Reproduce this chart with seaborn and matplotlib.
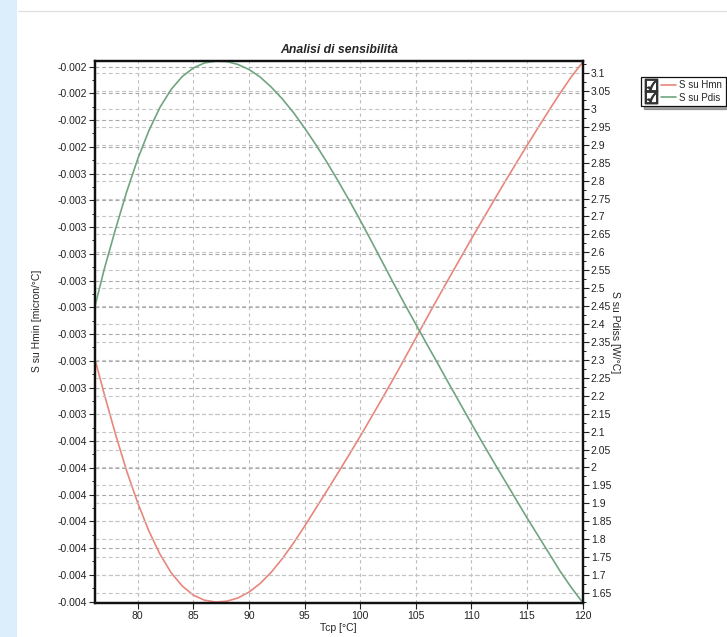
import numpy as np
import pandas as pd
import matplotlib
matplotlib.use("Agg")
import matplotlib.pyplot as plt
import seaborn as sns
from matplotlib.ticker import FixedLocator, FixedFormatter, MultipleLocator, AutoMinorLocator
from matplotlib.lines import Line2D
from matplotlib.legend_handler import HandlerTuple
from matplotlib.patches import Rectangle

# ---------------- data ----------------
tcp = [76.16, 77, 78, 79, 80, 81, 82, 83, 84, 85, 86, 87, 88, 89, 90, 91, 92, 93, 94,
       95, 96, 97, 98, 99, 100, 101, 102, 103, 104, 105, 106, 107, 108, 109, 110,
       111, 112, 113, 114, 115, 116, 117, 118, 119, 120]

s_hmn = [-0.003245, -0.003376, -0.003524, -0.003661, -0.003781, -0.003886, -0.003973,
         -0.004042, -0.004092, -0.004126, -0.004145, -0.004152, -0.004149, -0.004137,
         -0.004115, -0.004083, -0.004041, -0.003990, -0.003932, -0.003869, -0.003803,
         -0.003737, -0.003670, -0.003602, -0.003533, -0.003462, -0.003390, -0.003317,
         -0.003242, -0.003166, -0.003090, -0.003015, -0.002941, -0.002868, -0.002795,
         -0.002724, -0.002653, -0.002583, -0.002514, -0.002446, -0.002379, -0.002313,
         -0.002249, -0.002188, -0.002135]

s_pdis = [2.450, 2.554, 2.664, 2.768, 2.860, 2.939, 3.004, 3.054, 3.090, 3.114, 3.128,
          3.133, 3.132, 3.124, 3.110, 3.089, 3.061, 3.028, 2.990, 2.947, 2.901, 2.852,
          2.800, 2.746, 2.690, 2.632, 2.573, 2.514, 2.456, 2.400, 2.344, 2.289, 2.233,
          2.178, 2.123, 2.069, 2.016, 1.964, 1.912, 1.860, 1.810, 1.760, 1.710, 1.665,
          1.624]

left_tick_values = [-0.00215, -0.00225, -0.00235, -0.00245, -0.00255, -0.00265, -0.00275,
                    -0.00285, -0.00295, -0.00305, -0.00315, -0.00325, -0.00335, -0.00345,
                    -0.00355, -0.00365, -0.00375, -0.00385, -0.00395, -0.00405, -0.00415]
left_tick_labels = ["-0.002"] * 4 + ["-0.003"] * 10 + ["-0.004"] * 7

right_tick_values = [1.65, 1.7, 1.75, 1.8, 1.85, 1.9, 1.95, 2.0, 2.05, 2.1, 2.15, 2.2,
                     2.25, 2.3, 2.35, 2.4, 2.45, 2.5, 2.55, 2.6, 2.65, 2.7, 2.75, 2.8,
                     2.85, 2.9, 2.95, 3.0, 3.05, 3.1]
right_tick_labels = ["1.65", "1.7", "1.75", "1.8", "1.85", "1.9", "1.95", "2", "2.05",
                     "2.1", "2.15", "2.2", "2.25", "2.3", "2.35", "2.4", "2.45", "2.5",
                     "2.55", "2.6", "2.65", "2.7", "2.75", "2.8", "2.85", "2.9", "2.95",
                     "3", "3.05", "3.1"]

x_tick_values = [80, 85, 90, 95, 100, 105, 110, 115, 120]

title_text = "Analisi di sensibilità"
x_label = "Tcp [°C]"
left_label = "S su Hmin [micron/°C]"
right_label = "S su Pdiss [W/°C]"
legend_labels = ["S su Hmn", "S su Pdis"]

# ---------------- style ----------------
sns.set_style("white")
plt.rcParams["font.family"] = ["Liberation Sans", "DejaVu Sans"]

RED = "#e8867c"
GREEN = "#6fa57f"
GRID = "#a8a8a8"

W, H = 727, 637
fig = plt.figure(figsize=(W / 100, H / 100), dpi=100)
fig.patch.set_facecolor("white")

# page decorations (blue side strip, thin top rule)
fig.patches.append(Rectangle((0, 0), 17 / W, 1, transform=fig.transFigure,
                             facecolor="#dcedfb", edgecolor="none", zorder=0))
fig.add_artist(Line2D([18 / W, 1], [1 - 11 / H, 1 - 11 / H], transform=fig.transFigure,
                      color="#e2e2e2", lw=1.0))

ax = fig.add_axes([95 / W, 1 - 603 / H, (582.5 - 95) / W, (603 - 61) / H])
ax2 = ax.twinx()

df = pd.DataFrame({"tcp": tcp, "s_hmn": s_hmn, "s_pdis": s_pdis})
sns.lineplot(data=df, x="tcp", y="s_hmn", ax=ax, color=RED, lw=1.2)
sns.lineplot(data=df, x="tcp", y="s_pdis", ax=ax2, color=GREEN, lw=1.2)

ax.set_xlim(76.16, 120)
ax.set_ylim(-0.0041556, -0.0021294)
ax2.set_ylim(1.622, 3.1335)

ax.xaxis.set_major_locator(FixedLocator(x_tick_values))
ax.xaxis.set_minor_locator(MultipleLocator(1))
ax.yaxis.set_major_locator(FixedLocator(left_tick_values))
ax.yaxis.set_major_formatter(FixedFormatter(left_tick_labels))
ax.yaxis.set_minor_locator(AutoMinorLocator(2))
ax2.yaxis.set_major_locator(FixedLocator(right_tick_values))
ax2.yaxis.set_major_formatter(FixedFormatter(right_tick_labels))
ax2.yaxis.set_minor_locator(AutoMinorLocator(2))

tick_kw = dict(labelsize=7.5, colors="#222222", width=0.8, length=4, direction="out", pad=2)
ax.tick_params(axis="both", which="major", **tick_kw)
ax2.tick_params(axis="y", which="major", **tick_kw)
ax.tick_params(axis="both", which="minor", length=2, width=0.7, direction="out", color="#222222")
ax2.tick_params(axis="y", which="minor", length=2, width=0.7, direction="out", color="#222222")
ax.tick_params(axis="y", left=True, right=False)
ax.tick_params(axis="x", bottom=True)

dash = (0, (3.5, 2.5))
ax.grid(True, axis="y", which="major", ls=dash, color=GRID, lw=0.8)
ax.grid(True, axis="x", which="major", ls=(0, (3, 3)), color="#bdbdbd", lw=0.8)
ax2.grid(True, axis="y", which="major", ls=dash, color="#c4c4c4", lw=0.8)
ax.set_axisbelow(True)

for a in (ax, ax2):
    for s in a.spines.values():
        s.set_visible(True)
        s.set_color("#111111")
        s.set_linewidth(1.6)

ax.set_xlabel(x_label, fontsize=7.5, labelpad=1)
ax.set_ylabel(left_label, fontsize=7.5)
ax.yaxis.set_label_coords(-0.108, 0.52)
ax2.set_ylabel(right_label, fontsize=7.5, rotation=-90, va="center", ha="center")
ax2.yaxis.set_label_coords(1.066, 0.5)

ax.set_title(title_text, fontsize=8.8, fontweight="bold", fontstyle="italic",
             family=["Liberation Sans Narrow", "Liberation Sans", "DejaVu Sans"], pad=6)

# legend with check-box glyphs
chk = Line2D([], [], marker="$\u2611$", markersize=9, color="#333333", lw=0)
h_red = Line2D([], [], color=RED, lw=1.2)
h_green = Line2D([], [], color=GREEN, lw=1.2)
leg = fig.legend([(chk, h_red), (chk, h_green)], legend_labels,
                 handler_map={tuple: HandlerTuple(ndivide=None, pad=0.3)},
                 loc="upper left", bbox_to_anchor=(641 / W, 1 - 77 / H),
                 fontsize=7, frameon=True, fancybox=False, shadow=True,
                 handlelength=3.2, handletextpad=0.4, borderpad=0.35,
                 labelspacing=0.25, borderaxespad=0)
leg.get_frame().set_edgecolor("#111111")
leg.get_frame().set_linewidth(0.9)

fig.savefig("out.png", dpi=100)
